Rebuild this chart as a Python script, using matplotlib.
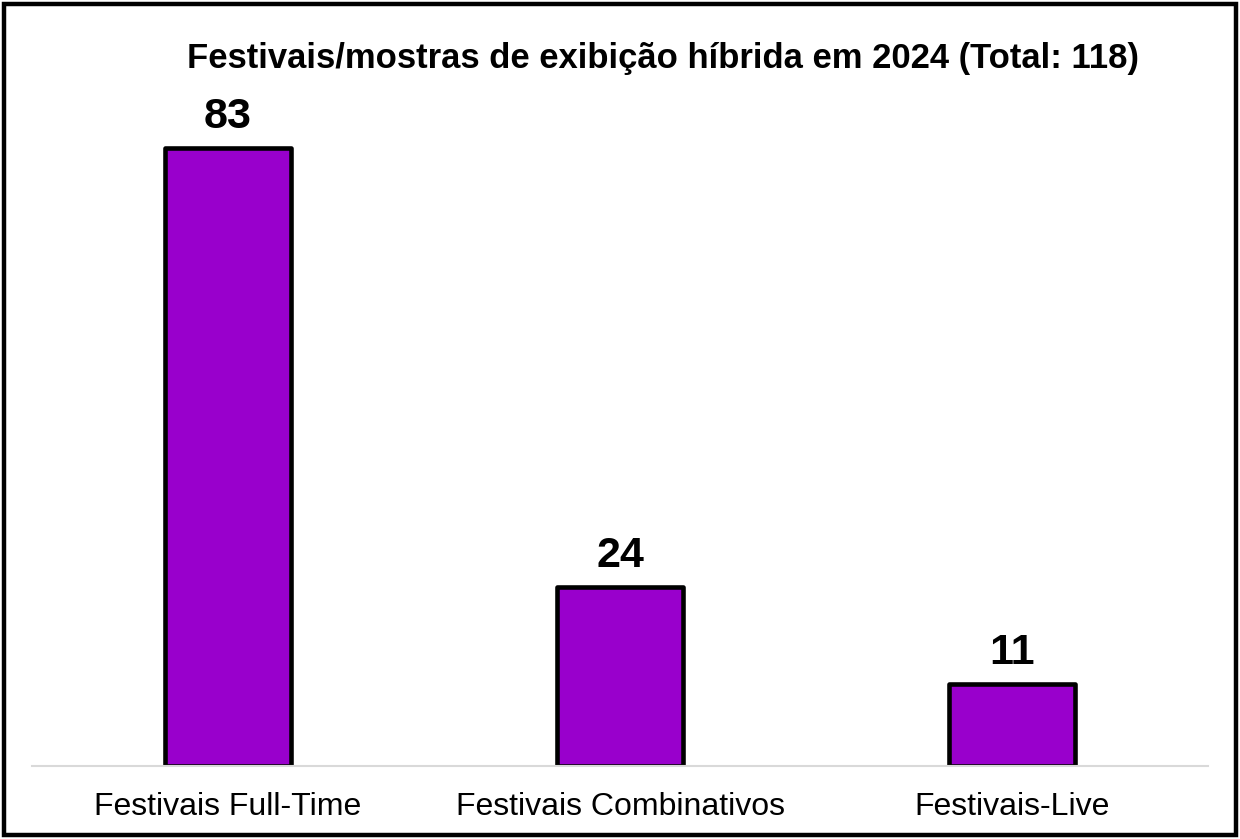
import matplotlib
matplotlib.use('Agg')
import matplotlib.pyplot as plt
from matplotlib.patches import Rectangle

categories = ['Festivais Full-Time', 'Festivais Combinativos', 'Festivais-Live']
values = [83, 24, 11]
title = 'Festivais/mostras de exibição híbrida em 2024 (Total: 118)'

plt.rcParams['font.family'] = ['Liberation Sans', 'DejaVu Sans']

fig = plt.figure(figsize=(12.4, 8.39), dpi=100)
ax = fig.add_axes([0.0258, 0.087, 0.9484, 0.7938])

x = range(len(categories))
bars = ax.bar(x, values, width=0.322, color='#9900CC', edgecolor='black',
              linewidth=3.3, joinstyle='round', zorder=2)
for b, v in zip(bars, values):
    ax.annotate(str(v), (b.get_x() + b.get_width() / 2, v),
                xytext=(0, 8), textcoords='offset points',
                ha='center', va='bottom', fontsize=31, fontweight='bold')

ax.set_xlim(-0.5, len(categories) - 0.5)
ax.set_ylim(0, 89.4)
ax.set_xticks(list(x))
ax.set_xticklabels(categories, fontsize=23)
ax.tick_params(axis='x', length=0, pad=19)
ax.set_yticks([])
for side in ('left', 'right', 'top'):
    ax.spines[side].set_visible(False)
ax.spines['bottom'].set_color('#d9d9d9')
ax.spines['bottom'].set_linewidth(1.5)
ax.spines['bottom'].set_zorder(3)

fig.text(0.535, 0.930, title, ha='center', va='center',
         fontsize=24.9, fontweight='bold')

# moldura externa
fig.patches.append(Rectangle((0.0032, 0.0048), 0.9936, 0.9904,
                             transform=fig.transFigure, fill=False,
                             edgecolor='black', linewidth=3.2))

fig.savefig('out.png', dpi=100)
